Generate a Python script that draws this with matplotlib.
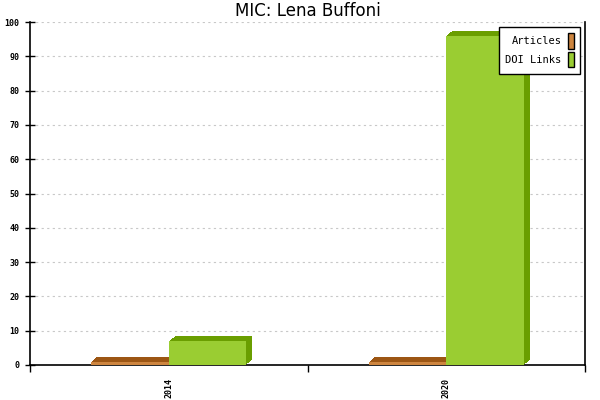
import matplotlib.pyplot as plt
import matplotlib.transforms as mtransforms
from matplotlib.patches import Patch
import numpy as np

# data
years = ["2014", "2020"]
articles = [1, 1]
doi_links = [7, 96]

mono = "DejaVu Sans Mono"

fig = plt.figure(figsize=(6, 4), dpi=100)
ax = fig.add_axes([0.05, 0.0875, 0.925, 0.8575])

x = np.arange(len(years))
width = 0.28

series = [
    (articles, -width / 2, "#cd853f", "#9c5614", "Articles"),
    (doi_links, width / 2, "#9acd32", "#6a9e00", "DOI Links"),
]
handles = []
for vals, off, front, dark, label in series:
    # fake 3d: stack the dark copy a pixel at a time up and to the right
    for k in range(6, 0, -1):
        shift = mtransforms.ScaledTranslation(k / 100, k * 5 / 6 / 100, fig.dpi_scale_trans)
        ax.bar(x + off, vals, width, color=dark, zorder=2,
               transform=ax.transData + shift, linewidth=0)
    ax.bar(x + off, vals, width, color=front, zorder=3, linewidth=0)
    handles.append(Patch(facecolor=front, edgecolor="black", linewidth=1, label=label))

ax.set_xlim(-0.5, len(years) - 0.5)
ax.set_ylim(0, 100)

ax.set_yticks(np.arange(0, 101, 10))
ax.yaxis.grid(True, color="#c8c8c8", linestyle=(0, (2, 3)), linewidth=0.8, zorder=0)
ax.set_axisbelow(True)

# category boundaries as major ticks, labels at centers as minor ticks
ax.set_xticks(np.arange(-0.5, len(years), 1.0))
ax.set_xticklabels([])
ax.set_xticks(x, minor=True)
ax.set_xticklabels(years, minor=True, rotation=90, fontfamily=mono,
                   fontsize=6, fontweight="bold")
ax.tick_params(axis="x", which="major", direction="out", length=5, width=1)
ax.tick_params(axis="x", which="minor", length=0, pad=9)
ax.tick_params(axis="y", direction="inout", length=7, width=1, pad=4)
for lab in ax.get_yticklabels():
    lab.set_fontfamily(mono)
    lab.set_fontsize(6)
    lab.set_fontweight("bold")

ax.spines["top"].set_visible(False)
for s in ["left", "bottom", "right"]:
    ax.spines[s].set_linewidth(1.2)
    ax.spines[s].set_color("black")

ax.set_title("MIC: Lena Buffoni", fontsize=12, pad=4)

leg = ax.legend(handles=handles, loc="upper right", markerfirst=False,
                handlelength=0.55, handleheight=1.9, handletextpad=0.6,
                prop={"family": mono, "size": 7.5}, fancybox=False,
                framealpha=1, edgecolor="black", borderaxespad=0.5,
                labelspacing=0.3, borderpad=0.6)
leg.get_frame().set_linewidth(1)

fig.savefig("out.png", dpi=100)
